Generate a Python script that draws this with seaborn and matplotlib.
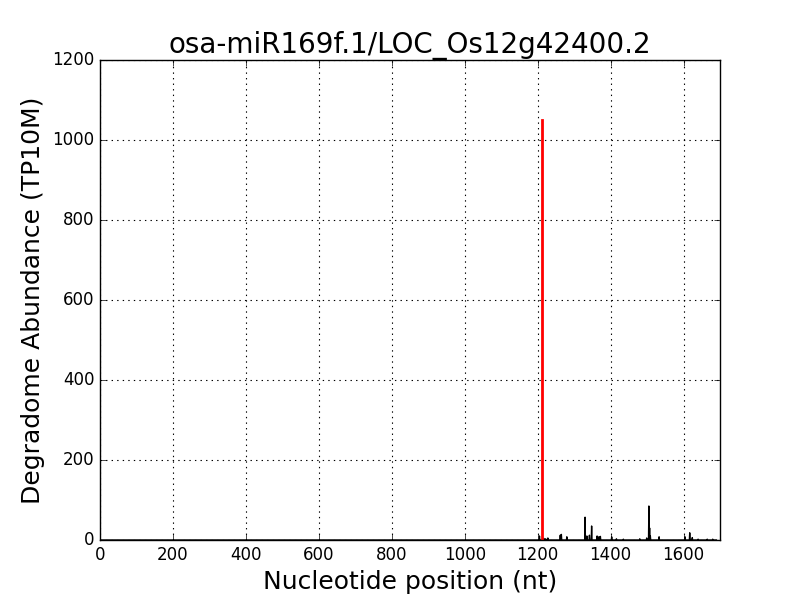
import matplotlib
matplotlib.use("Agg")
import matplotlib.pyplot as plt
import seaborn as sns
import numpy as np
import pandas as pd

title = "osa-miR169f.1/LOC_Os12g42400.2"
transcript_length = 1690
cleavage_site = 1212
cleavage_abundance = 1050

positions = [1205, 1217, 1222, 1228, 1262, 1265, 1280, 1330, 1335, 1342, 1348, 1363, 1368, 1372,
             1403, 1416, 1435, 1480, 1499, 1505, 1507, 1509, 1533, 1604, 1617, 1624, 1640, 1665, 1680]
abundance = [10, 4, 3, 5, 12, 14, 8, 57, 10, 12, 35, 10, 8, 9,
             8, 3, 2, 3, 5, 85, 30, 10, 8, 8, 18, 6, 2, 2, 2]

xticks = [0, 200, 400, 600, 800, 1000, 1200, 1400, 1600]
yticks = [0, 200, 400, 600, 800, 1000, 1200]

plt.style.use("classic")
fig, ax = plt.subplots(figsize=(8, 6), dpi=100)
fig.patch.set_facecolor("white")

full = pd.Series(0.0, index=np.arange(1, transcript_length + 1))
full.loc[positions] = abundance
df = pd.DataFrame({"pos": full.index, "val": full.values})
sns.lineplot(data=df, x="pos", y="val", color="black", linewidth=1, ax=ax, estimator=None)

red = pd.DataFrame({"pos": [cleavage_site, cleavage_site], "val": [0, cleavage_abundance]})
sns.lineplot(data=red, x="pos", y="val", color="red", linewidth=2, ax=ax, estimator=None)

ax.set_xlim(0, 1700)
ax.set_ylim(0, 1200)
ax.set_xticks(xticks)
ax.set_yticks(yticks)
ax.tick_params(labelsize=12)
ax.grid(True, color="black", linestyle=":", linewidth=0.8)
ax.set_title(title, fontsize=20)
ax.set_xlabel("Nucleotide position (nt)", fontsize=18)
ax.set_ylabel("Degradome Abundance (TP10M)", fontsize=18)
fig.subplots_adjust(left=0.125, right=0.9, bottom=0.1, top=0.9)
fig.savefig("out.png", dpi=100, facecolor="white")
